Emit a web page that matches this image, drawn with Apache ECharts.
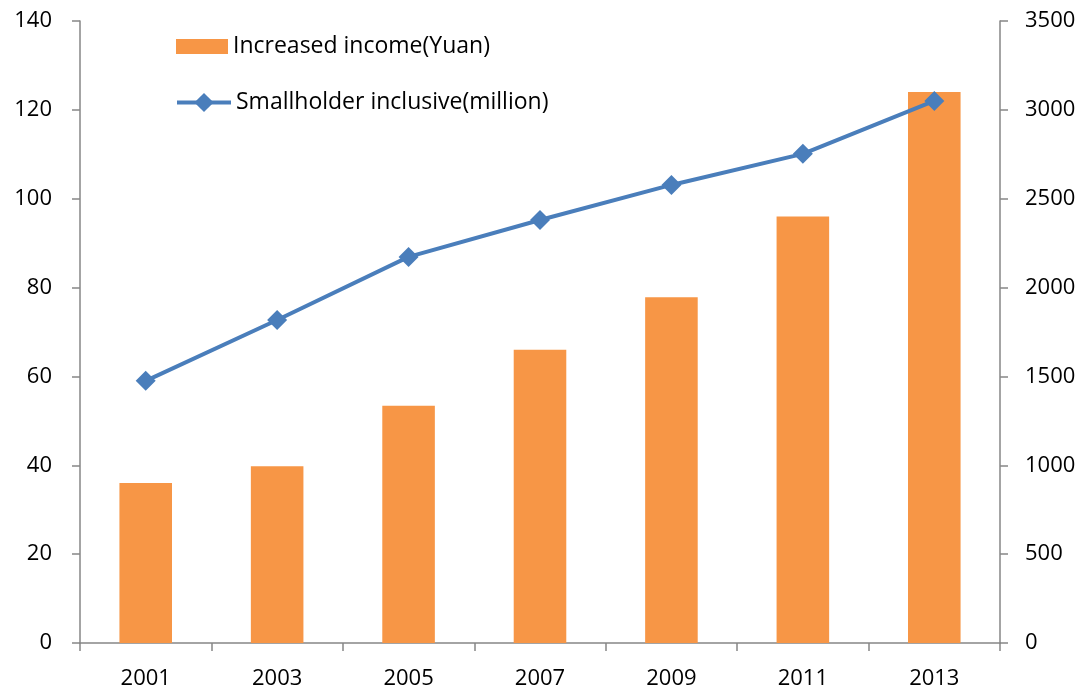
<!DOCTYPE html>
<html>
<head>
<meta charset="utf-8">
<script src="https://cdn.jsdelivr.net/npm/echarts@6/dist/echarts.min.js"></script>
<style>
  html, body { margin: 0; padding: 0; background: #fff; }
  #main { width: 1082px; height: 691px; }
</style>
</head>
<body>
<div id="main"></div>
<script>
const years = ['2001', '2003', '2005', '2007', '2009', '2011', '2013']
const incomeYuan = [900, 995, 1335, 1650, 1945, 2400, 3100]
const smallholderMillion = [59, 72.7, 86.9, 95.2, 103.1, 110.1, 122]

const axisGray = '#868686'
const font = 'Open Sans'
const legendText = { fontSize: 23, color: '#000', fontFamily: font }

const chart = echarts.init(document.getElementById('main'))
chart.setOption({
  animation: false,
  textStyle: { fontFamily: font },
  grid: { left: 80, right: 82, top: 21, bottom: 48 },
  legend: [
    {
      left: 171,
      top: 30,
      itemWidth: 52,
      itemHeight: 15,
      textStyle: legendText,
      data: [{ name: 'Increased income(Yuan)', icon: 'rect' }]
    },
    {
      left: 170,
      top: 86,
      itemWidth: 54,
      itemHeight: 24,
      textStyle: legendText,
      data: [{ name: 'Smallholder inclusive(million)', lineStyle: { width: 4 } }]
    }
  ],
  xAxis: {
    type: 'category',
    data: years,
    axisLine: { lineStyle: { color: axisGray, width: 1.5 } },
    axisTick: { show: true, length: 8, lineStyle: { color: axisGray, width: 1.5 } },
    axisLabel: { color: '#000', fontSize: 22, margin: 25 },
    splitLine: { show: false }
  },
  yAxis: [
    {
      type: 'value',
      min: 0, max: 140, interval: 20,
      axisLine: { show: true, lineStyle: { color: axisGray, width: 1.5 } },
      axisTick: { show: true, length: 8, lineStyle: { color: axisGray, width: 1.5 } },
      axisLabel: { color: '#000', fontSize: 22, margin: 28 },
      splitLine: { show: false }
    },
    {
      type: 'value',
      min: 0, max: 3500, interval: 500,
      axisLine: { show: true, lineStyle: { color: axisGray, width: 1.5 } },
      axisTick: { show: true, length: 8, lineStyle: { color: axisGray, width: 1.5 } },
      axisLabel: { color: '#000', fontSize: 22, margin: 25, formatter: v => String(v) },
      splitLine: { show: false }
    }
  ],
  series: [
    {
      name: 'Increased income(Yuan)',
      type: 'bar',
      yAxisIndex: 1,
      data: incomeYuan,
      barCategoryGap: '60%',
      itemStyle: { color: '#f79646' }
    },
    {
      name: 'Smallholder inclusive(million)',
      type: 'line',
      yAxisIndex: 0,
      data: smallholderMillion,
      symbol: 'diamond',
      symbolSize: 20,
      lineStyle: { color: '#4a7ebb', width: 4 },
      itemStyle: { color: '#4a7ebb' }
    }
  ]
})
</script>
</body>
</html>
